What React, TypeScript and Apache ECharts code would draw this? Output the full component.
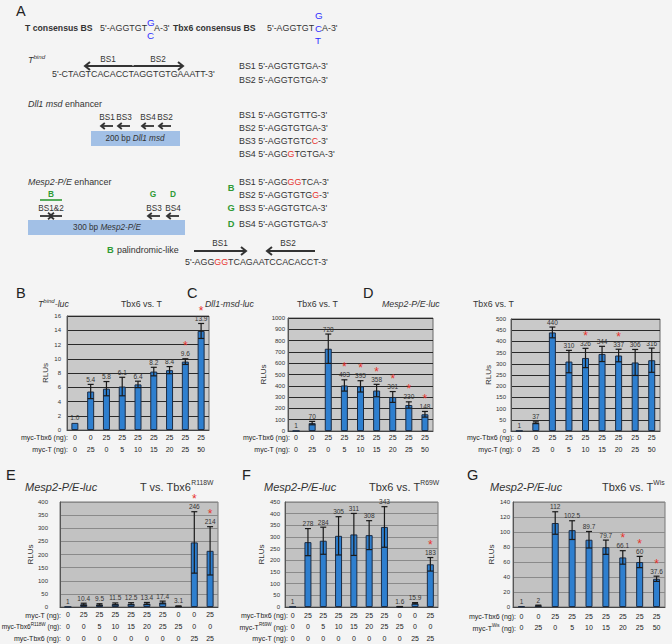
import React, { useEffect, useRef } from 'react';
import * as echarts from 'echarts';

const FONT = '"Liberation Sans", Arial, Helvetica, sans-serif';
const RED = '#e8322c';
const GREEN = '#2f9a35';
const BLUE = '#2f2fff';
const INK = '#333333';

// ---------------- data ----------------
const doseTbx6 = [0, 0, 25, 25, 25, 25, 25, 25, 25];
const doseT = [0, 25, 0, 5, 10, 15, 20, 25, 50];

const bValues = [1.0, 5.4, 5.8, 6.1, 6.4, 8.2, 8.4, 9.6, 13.9];
const bErrors = [0, 1.0, 1.0, 1.3, 0.45, 0.6, 0.5, 0.4, 1.05];
const bLabels = ['1.0', '5.4', '5.8', '6.1', '6.4', '8.2', '8.4', '9.6', '13.9'];
const bStars = [7, 8];

const cValues = [1, 70, 728, 403, 395, 358, 301, 230, 148];
const cErrors = [0, 15, 130, 50, 50, 55, 48, 28, 25];
const cStars = [3, 4, 5, 6, 7, 8];

const dValues = [1, 37, 440, 310, 326, 344, 337, 306, 316];
const dErrors = [0, 4, 24, 50, 43, 34, 28, 58, 54];
const dStars = [4, 6];

const eValues = [1, 10.4, 9.5, 11.5, 12.5, 13.4, 17.4, 3.1, 246, 214];
const eErrors = [0, 4, 3, 4, 4, 4, 5, 1, 117, 92];
const eStars = [8, 9];
const eDoseT = [0, 25, 25, 25, 25, 25, 25, 0, 0, 25];
const eDoseTbx6R118W = [0, 0, 5, 10, 15, 20, 25, 25, 0, 0];
const eDoseTbx6 = [0, 0, 0, 0, 0, 0, 0, 0, 25, 25];

const fValues = [1, 278, 284, 305, 311, 308, 343, 1.6, 15.9, 183];
const fErrors = [0, 58, 58, 82, 90, 62, 87, 0.5, 3, 29];
const fStars = [9];
const fDoseTbx6 = [0, 25, 25, 25, 25, 25, 25, 0, 0, 25];
const fDoseTR69W = [0, 0, 5, 10, 15, 20, 25, 25, 0, 0];
const fDoseT = [0, 0, 0, 0, 0, 0, 0, 0, 25, 25];

const gValues = [1, 2, 112, 102.5, 89.7, 79.7, 66.1, 60, 37.6];
const gErrors = [0, 0.5, 15, 12.5, 11, 9.5, 9, 7.5, 3.5];
const gStars = [6, 7, 8];
const gDoseTbx6 = [0, 0, 25, 25, 25, 25, 25, 25, 25];
const gDoseTWis = [0, 25, 0, 5, 10, 15, 20, 25, 50];

// axis ranges
const bAxis = { max: 16, interval: 2 };
const cAxis = { max: 1000, interval: 100 };
const dAxis = { max: 500, interval: 50 };
const eAxis = { max: 400, interval: 50 };
const fAxis = { max: 450, interval: 50 };
const gAxis = { max: 140, interval: 20 };

// ---------------- layout ----------------
type Panel = {
  values: number[]; errors: number[]; labels: string[]; stars: number[];
  rows: number[][]; axis: { max: number; interval: number };
  left: number; top: number; width: number; height: number;
  nameGap: number; yMargin: number; xMargin: number; lineHeight: number;
  dark: boolean;
};

const panels: Panel[] = [
  { values: bValues, errors: bErrors, labels: bLabels, stars: bStars, rows: [doseTbx6, doseT], axis: bAxis,
    left: 67, top: 316, width: 142, height: 114, nameGap: 18, yMargin: 6, xMargin: 1, lineHeight: 12, dark: true },
  { values: cValues, errors: cErrors, labels: cValues.map(String), stars: cStars, rows: [doseTbx6, doseT], axis: cAxis,
    left: 288, top: 318, width: 145, height: 113, nameGap: 12, yMargin: 3, xMargin: 0, lineHeight: 12, dark: true },
  { values: dValues, errors: dErrors, labels: dValues.map(String), stars: dStars, rows: [doseTbx6, doseT], axis: dAxis,
    left: 511, top: 319, width: 149, height: 112, nameGap: 15, yMargin: 5, xMargin: 0, lineHeight: 12, dark: true },
  { values: eValues, errors: eErrors, labels: eValues.map(String), stars: eStars, rows: [eDoseT, eDoseTbx6R118W, eDoseTbx6], axis: eAxis,
    left: 60, top: 502, width: 158, height: 105, nameGap: 22, yMargin: 12, xMargin: 2, lineHeight: 11.6, dark: false },
  { values: fValues, errors: fErrors, labels: fValues.map(String), stars: fStars, rows: [fDoseTbx6, fDoseTR69W, fDoseT], axis: fAxis,
    left: 285, top: 502, width: 153, height: 105, nameGap: 20, yMargin: 5, xMargin: 3, lineHeight: 11.3, dark: false },
  { values: gValues, errors: gErrors, labels: gValues.map(String), stars: gStars, rows: [gDoseTbx6, gDoseTWis], axis: gAxis,
    left: 513, top: 502, width: 152, height: 105, nameGap: 18, yMargin: 3, xMargin: 3.5, lineHeight: 11.6, dark: false },
];

// ---------------- graphic helpers ----------------
const A = 8.9;
const rs = (fs: number, extra: any = {}) => ({ fontSize: fs, fontFamily: FONT, fill: INK, ...extra });

const txt = (x: number, y: number, text: string, o: any = {}) => ({
  type: 'text', x, y, silent: true, z: 10,
  style: {
    text,
    fill: o.fill ?? INK,
    fontSize: o.fs ?? A,
    fontFamily: FONT,
    fontWeight: o.bold ? 'bold' : 'normal',
    fontStyle: o.italic ? 'italic' : 'normal',
    align: o.align ?? 'left', textAlign: o.align ?? 'left',
    verticalAlign: 'middle', textVerticalAlign: 'middle',
    lineHeight: o.lh,
    rich: o.rich,
  },
});

const arrow = (x1: number, y: number, x2: number, lw = 2, head = 4.5) => {
  const d = x2 > x1 ? 1 : -1;
  return [
    { type: 'line', silent: true, shape: { x1, y1: y, x2: x2 - d * 0.8, y2: y }, style: { stroke: '#333', lineWidth: lw } },
    { type: 'polyline', silent: true, shape: { points: [[x2 - d * head, y - head * 0.8], [x2, y], [x2 - d * head, y + head * 0.8]] },
      style: { stroke: '#333', lineWidth: lw, fill: 'none' } },
  ];
};

const richA = {
  r: rs(A, { fill: RED }),
  i: rs(A, { fontStyle: 'italic' }),
  s: rs(6.2, { fontStyle: 'italic', verticalAlign: 'top', lineHeight: 7 }),
};
const richSmall = {
  i: rs(8.2, { fontStyle: 'italic' }),
};

function panelAGraphics() {
  const g: any[] = [];
  g.push(txt(16, 11, 'A', { fs: 14.5, fill: '#222' }));
  // consensus line
  g.push(txt(25, 28, 'T consensus BS', { bold: true, fs: 8.7 }));
  g.push(txt(100, 28, "5'-AGGTGT"));
  g.push(txt(147, 22, 'G', { fill: BLUE, fs: 9.8 }));
  g.push(txt(147, 35, 'C', { fill: BLUE, fs: 9.8 }));
  g.push(txt(154, 28, "A-3'"));
  g.push(txt(173, 28, 'Tbx6 consensus BS', { bold: true, fs: 8.7 }));
  g.push(txt(267, 28, "5'-AGGTGT"));
  g.push(txt(315, 15, 'G', { fill: BLUE, fs: 9.8 }));
  g.push(txt(315, 28, 'C', { fill: BLUE, fs: 9.8 }));
  g.push(txt(315, 40, 'T', { fill: BLUE, fs: 9.8 }));
  g.push(txt(322, 28, "A-3'"));

  // T bind
  g.push(txt(28, 60, '{i|T}{s|bind}', { rich: richA, lh: 13 }));
  g.push(txt(108, 59, 'BS1', { fs: 8.2, align: 'center' }));
  g.push(txt(158, 59, 'BS2', { fs: 8.2, align: 'center' }));
  g.push(...arrow(133, 66, 85, 2, 5));
  g.push(...arrow(133, 66, 183, 2, 5));
  g.push({ type: 'line', silent: true, shape: { x1: 133, y1: 63, x2: 133, y2: 66 }, style: { stroke: '#f4f4f4', lineWidth: 1 } });
  g.push(txt(52, 74, "5'-CTAGTCACACCTAGGTGTGAAATT-3'"));
  g.push(txt(239, 66, "BS1 5'-AGGTGTGA-3'"));
  g.push(txt(239, 80, "BS2 5'-AGGTGTGA-3'"));

  // Dll1 msd
  g.push(txt(28, 104, '{i|Dll1 msd} enhancer', { rich: richA }));
  [[107, 'BS1'], [124, 'BS3'], [148, 'BS4'], [165, 'BS2']].forEach(([x, s]) => {
    g.push(txt(x as number, 117, s as string, { fs: 8.2, align: 'center' }));
    g.push(...arrow((x as number) + 6, 126, (x as number) - 6, 1.8, 3.8));
  });
  g.push({ type: 'rect', silent: true, shape: { x: 91, y: 131, width: 89, height: 15 }, style: { fill: '#a2c0e6' } });
  g.push(txt(135, 138.5, '200 bp {i|Dll1 msd}', { fs: 8.2, align: 'center', rich: richSmall }));
  g.push(txt(239, 115, "BS1 5'-AGGTGTTG-3'"));
  g.push(txt(239, 128, "BS2 5'-AGGTGTGA-3'"));
  g.push(txt(239, 141, "BS3 5'-AGGTGTC{r|C}-3'", { rich: richA }));
  g.push(txt(239, 154, "BS4 5'-AGG{r|G}TGTGA-3'", { rich: richA }));

  // Mesp2-P/E
  g.push(txt(28, 182, '{i|Mesp2-P/E} enhancer', { rich: richA }));
  g.push(txt(51, 194, 'B', { fs: 8.3, bold: true, fill: GREEN, align: 'center' }));
  g.push({ type: 'line', silent: true, shape: { x1: 40, y1: 200, x2: 62, y2: 200 }, style: { stroke: GREEN, lineWidth: 1.6 } });
  g.push(txt(51, 208, 'BS1&2', { fs: 8.2, align: 'center' }));
  g.push(...arrow(40, 216, 52, 1.8, 4));
  g.push(...arrow(62, 216, 50, 1.8, 4));
  g.push(txt(153, 194, 'G', { fs: 8.3, bold: true, fill: GREEN, align: 'center' }));
  g.push(txt(173, 194, 'D', { fs: 8.3, bold: true, fill: GREEN, align: 'center' }));
  g.push(txt(154, 208, 'BS3', { fs: 8.2, align: 'center' }));
  g.push(txt(173, 208, 'BS4', { fs: 8.2, align: 'center' }));
  g.push(...arrow(160, 216, 148, 1.8, 3.8));
  g.push(...arrow(179, 216, 167, 1.8, 3.8));
  g.push({ type: 'rect', silent: true, shape: { x: 28, y: 220, width: 157, height: 15 }, style: { fill: '#a2c0e6' } });
  g.push(txt(107, 227.5, '300 bp {i|Mesp2-P/E}', { fs: 8.2, align: 'center', rich: richSmall }));

  g.push(txt(231, 188, 'B', { fs: 9.3, bold: true, fill: GREEN, align: 'center' }));
  g.push(txt(239, 182, "BS1 5'-AGG{r|GG}TCA-3'", { rich: richA }));
  g.push(txt(239, 195, "BS2 5'-AGGTGTG{r|G}-3'", { rich: richA }));
  g.push(txt(231, 208, 'G', { fs: 9.3, bold: true, fill: GREEN, align: 'center' }));
  g.push(txt(239, 208, "BS3 5'-AGGTGTCA-3'"));
  g.push(txt(231, 224, 'D', { fs: 9.3, bold: true, fill: GREEN, align: 'center' }));
  g.push(txt(239, 224, "BS4 5'-AGGTGTGA-3'"));

  // palindromic
  g.push(txt(107, 250, 'B', { fs: 9.3, bold: true, fill: GREEN }));
  g.push(txt(117, 250, 'palindromic-like'));
  g.push(txt(220, 243, 'BS1', { fs: 8.2, align: 'center' }));
  g.push(txt(288, 243, 'BS2', { fs: 8.2, align: 'center' }));
  g.push(...arrow(194, 251, 246, 2, 5));
  g.push(...arrow(315, 251, 267, 2, 5));
  g.push(txt(185, 262, "5'-AGG{r|GG}TCAGAATCCACACCT-3'", { rich: richA }));
  return g;
}

function panelLabels() {
  const g: any[] = [];
  const L = (x: number, y: number, s: string) => g.push(txt(x, y, s, { fs: 14.5, fill: '#222' }));
  L(16, 293, 'B'); L(187, 293, 'C'); L(363, 293, 'D');
  L(6, 475, 'E'); L(242, 475, 'F'); L(467, 475, 'G');

  const t1 = 8.8;
  const rich1 = {
    i: rs(t1, { fontStyle: 'italic' }),
    s: rs(6, { fontStyle: 'italic', verticalAlign: 'top', lineHeight: 6.5 }),
  };
  g.push(txt(38, 304, '{i|T}{s|bind}{i|-luc}', { fs: t1, rich: rich1, lh: 13 }));
  g.push(txt(121, 304, 'Tbx6 vs. T', { fs: t1 }));
  g.push(txt(205, 304, '{i|Dll1-msd-luc}', { fs: t1, rich: rich1 }));
  g.push(txt(297, 304, 'Tbx6 vs. T', { fs: t1 }));
  g.push(txt(382, 304, '{i|Mesp2-P/E-luc}', { fs: t1, rich: rich1 }));
  g.push(txt(473, 304, 'Tbx6 vs. T', { fs: t1 }));

  const t2 = 11;
  const rich2 = {
    i: rs(t2, { fontStyle: 'italic' }),
    s: rs(6.8, { verticalAlign: 'top', lineHeight: 7 }),
  };
  g.push(txt(25, 487, '{i|Mesp2-P/E-luc}', { fs: t2, rich: rich2 }));
  g.push(txt(140, 487, 'T vs. Tbx6{s|R118W}', { fs: t2, rich: rich2, lh: 16 }));
  g.push(txt(264, 487, '{i|Mesp2-P/E-luc}', { fs: t2, rich: rich2 }));
  g.push(txt(369, 487, 'Tbx6 vs. T{s|R69W}', { fs: t2, rich: rich2, lh: 16 }));
  g.push(txt(490, 487, '{i|Mesp2-P/E-luc}', { fs: t2, rich: rich2 }));
  g.push(txt(602, 487, 'Tbx6 vs. T{s|Wis}', { fs: t2, rich: rich2, lh: 16 }));

  // row headers
  const richR = { s: rs(4.6, { verticalAlign: 'top', lineHeight: 5, fill: '#222' }) };
  const R = (x: number, y: number, s: string, fs = 7) =>
    g.push(txt(x, y, s, { fs, align: 'right', rich: richR, lh: 10, fill: '#222' }));
  R(68, 437, 'myc-Tbx6 (ng):'); R(68, 449, 'myc-T (ng):');
  R(290, 437, 'myc-Tbx6 (ng):'); R(290, 449, 'myc-T (ng):');
  R(514, 437, 'myc-Tbx6 (ng):'); R(514, 449, 'myc-T (ng):');
  R(61, 615, 'myc-T (ng):'); R(61, 626.5, 'myc-Tbx6{s|R118W} (ng):', 6.6); R(61, 638, 'myc-Tbx6 (ng):');
  R(288, 615.7, 'myc-Tbx6 (ng):'); R(288, 627, 'myc-T{s|R69W} (ng):'); R(288, 638.3, 'myc-T (ng):');
  R(516, 616.7, 'myc-Tbx6 (ng):'); R(516, 628.3, 'myc-T{s|Wis} (ng):');
  return g;
}

function buildOption() {
  const grid: any[] = [];
  const xAxis: any[] = [];
  const yAxis: any[] = [];
  const series: any[] = [];

  panels.forEach((p, k) => {
    grid.push({
      left: p.left, top: p.top, width: p.width, height: p.height,
      show: true, backgroundColor: p.dark ? '#c9c9c9' : '#c2c2c2',
      borderColor: p.dark ? '#666' : '#777', borderWidth: 1,
      containLabel: false, outerBoundsMode: 'none',
    });
    xAxis.push({
      gridIndex: k, type: 'category',
      data: p.values.map((_, i) => String(i)),
      axisTick: { show: false },
      axisLine: { show: true, lineStyle: { color: '#444', width: 1 } },
      axisLabel: {
        interval: 0, fontSize: 7, fontFamily: FONT, color: '#222',
        lineHeight: p.lineHeight, margin: p.xMargin,
        formatter: (_v: string, i: number) => p.rows.map((r) => String(r[i])).join('\n'),
      },
      splitLine: { show: false },
    });
    yAxis.push({
      gridIndex: k, type: 'value', min: 0, max: p.axis.max, interval: p.axis.interval,
      name: 'RLUs', nameLocation: 'middle', nameGap: p.nameGap,
      nameTextStyle: { fontSize: 8, fontFamily: FONT, color: INK },
      axisLine: { show: true, lineStyle: { color: '#555' } },
      axisTick: { show: false },
      axisLabel: {
        fontSize: 6, fontFamily: FONT, color: '#333', margin: p.yMargin,
        formatter: (v: number) => String(v),
      },
      splitLine: { show: true, lineStyle: { color: p.dark ? '#2a2a2a' : '#8a8a8a', width: 1 } },
    });
    series.push({
      type: 'bar', xAxisIndex: k, yAxisIndex: k, data: p.values, barWidth: 7,
      itemStyle: { color: '#2e7fcf', borderColor: '#1c2c44', borderWidth: 1 },
      silent: true, z: 2,
    });
    series.push({
      type: 'custom', xAxisIndex: k, yAxisIndex: k, z: 5, clip: false, silent: true,
      data: p.values.map((v, i) => [i, v, p.errors[i]]),
      encode: { x: 0, y: 1 },
      renderItem: (params: any, api: any) => {
        const i = api.value(0) as number;
        const v = api.value(1) as number;
        const e = api.value(2) as number;
        const top = api.coord([i, v + e]);
        const bot = api.coord([i, Math.max(0, v - e)]);
        const x = top[0];
        const children: any[] = [];
        if (e > 0) {
          const st = { stroke: '#1a1a1a', lineWidth: 1.2 };
          children.push({ type: 'line', shape: { x1: x, y1: top[1], x2: x, y2: bot[1] }, style: st });
          children.push({ type: 'line', shape: { x1: x - 3, y1: top[1], x2: x + 3, y2: top[1] }, style: st });
          children.push({ type: 'line', shape: { x1: x - 3, y1: bot[1], x2: x + 3, y2: bot[1] }, style: st });
        }
        children.push({
          type: 'text', x, y: top[1] - 5,
          style: {
            text: p.labels[i], fontSize: 6.5, fontFamily: FONT, fill: '#333', lineHeight: 7,
            align: 'center', textAlign: 'center', verticalAlign: 'middle', textVerticalAlign: 'middle',
          },
        });
        if (p.stars.indexOf(i) >= 0) {
          children.push({
            type: 'text', x, y: top[1] - 12.5,
            style: {
              text: '*', fontSize: 12, fontFamily: FONT, fill: RED, lineHeight: 5,
              align: 'center', textAlign: 'center', verticalAlign: 'middle', textVerticalAlign: 'middle',
            },
          });
        }
        return { type: 'group', children };
      },
    });
  });

  return {
    animation: false,
    backgroundColor: '#f4f4f4',
    textStyle: { fontFamily: FONT },
    grid, xAxis, yAxis, series,
    graphic: [...panelAGraphics(), ...panelLabels()],
  };
}

export default function App() {
  const ref = useRef<HTMLDivElement>(null);
  useEffect(() => {
    document.body.style.margin = '0';
    const chart = echarts.init(ref.current!, null, { renderer: 'svg' });
    chart.setOption(buildOption() as any);
    return () => chart.dispose();
  }, []);
  return (
    <div
      ref={ref}
      style={{ position: 'absolute', left: 0, top: 0, width: 672, height: 644, background: '#f4f4f4' }}
    />
  );
}
